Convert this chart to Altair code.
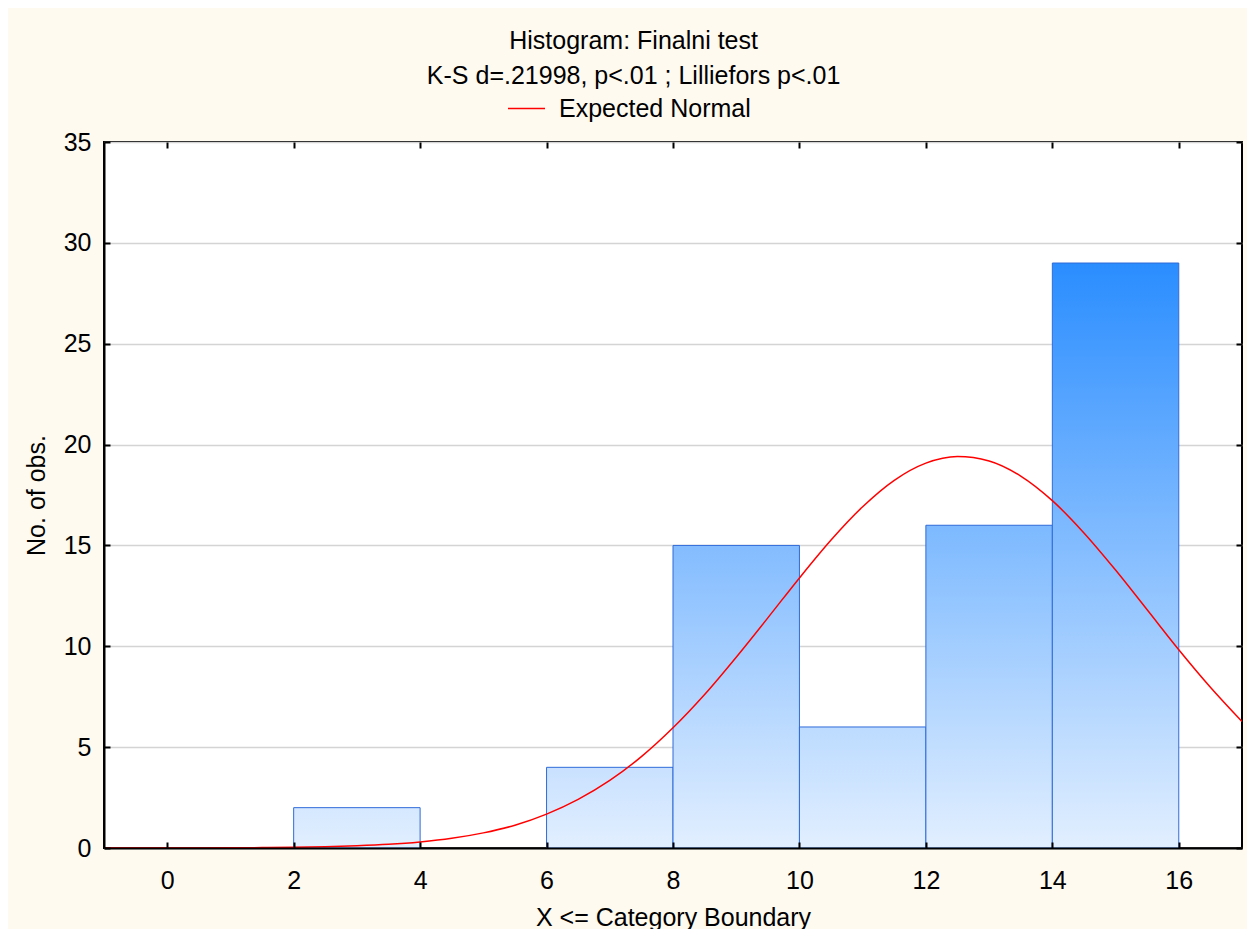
import altair as alt
import pandas as pd

# ---- data ----
bin_start = [0, 2, 4, 6, 8, 10, 12, 14]
bin_end = [2, 4, 6, 8, 10, 12, 14, 16]
counts = [0, 2, 0, 4, 15, 6, 16, 29]

curve_x = [-1, -0.5, 0, 0.5, 1, 1.5, 2, 2.5, 3, 3.5, 4, 4.5, 5, 5.5, 6, 6.5,
           7, 7.5, 8, 8.5, 9, 9.5, 10, 10.5, 11, 11.5, 12, 12.5, 13, 13.5,
           14, 14.5, 15, 15.5, 16, 16.5, 17]
curve_y = [0.0005, 0.001, 0.002, 0.005, 0.01, 0.02, 0.034, 0.06, 0.107, 0.18,
           0.30, 0.48, 0.75, 1.13, 1.68, 2.41, 3.35, 4.53, 5.96, 7.61, 9.46,
           11.41, 13.39, 15.27, 16.92, 18.23, 19.08, 19.41, 19.19, 18.44,
           17.22, 15.62, 13.78, 11.81, 9.83, 7.97, 6.27]
series_name = "Expected Normal"

x_ticks = [0, 2, 4, 6, 8, 10, 12, 14, 16]
y_ticks = [0, 5, 10, 15, 20, 25, 30, 35]

title_lines = ["Histogram: Finalni test", "K-S d=.21998, p<.01 ; Lilliefors p<.01"]
x_title = "X <= Category Boundary"
y_title = "No. of obs."

FONT = "Liberation Sans, Arial, sans-serif"
FS = 25

bars = pd.DataFrame({"start": bin_start, "end": bin_end, "count": counts})
curve = pd.DataFrame({"x": curve_x, "y": curve_y, "series": series_name})

xscale = alt.Scale(domain=[-1, 17], nice=False, zero=False)
yscale = alt.Scale(domain=[0, 35], nice=False)

BOTTOM = (226, 239, 255)
TOP = (42, 141, 255)
cmax = max(counts)


def shade(v):
    t = v / cmax
    c = [round(BOTTOM[i] + (TOP[i] - BOTTOM[i]) * t) for i in range(3)]
    return "#%02x%02x%02x" % tuple(c)


def tick_axis(orient, values):
    return alt.Axis(orient=orient, values=values, labels=False, domain=False,
                    grid=False, ticks=True, tickSize=6, tickWidth=2,
                    tickColor="black", offset=-6, title=None, zindex=1)


x_axes = [
    alt.Axis(orient="bottom", values=x_ticks, title=x_title, domain=True,
             domainColor="black", domainWidth=2, ticks=False, tickSize=0,
             labelPadding=20, titlePadding=12, grid=False, zindex=1),
    tick_axis("bottom", x_ticks),
    tick_axis("top", x_ticks),
    None,
]
y_axes = [
    alt.Axis(orient="left", values=y_ticks, title=y_title, domain=True,
             domainColor="black", domainWidth=2, ticks=False, tickSize=0,
             labelPadding=13, titlePadding=14, grid=False, zindex=1),
    alt.Axis(orient="left", values=y_ticks, labels=False, domain=False,
             ticks=False, grid=True, gridColor="#d4d4d4", gridWidth=1.5,
             title=None, zindex=0),
    tick_axis("left", y_ticks),
    tick_axis("right", y_ticks),
]

layers = []
k = 0
for s, e, c in zip(bin_start, bin_end, counts):
    if c <= 0:
        continue
    xa = x_axes[k] if k < len(x_axes) else None
    ya = y_axes[k] if k < len(y_axes) else None
    grad = alt.LinearGradient(
        gradient="linear",
        stops=[alt.GradientStop(color=shade(0), offset=0),
               alt.GradientStop(color=shade(c), offset=1)],
        x1=0, x2=0, y1=1, y2=0)
    layer = alt.Chart(bars).transform_filter(alt.datum.start == s).mark_rect(
        fill=grad, stroke="#2f6bd9", strokeWidth=1
    ).encode(
        x=alt.X("start:Q", scale=xscale, axis=xa),
        x2="end:Q",
        y=alt.Y("count:Q", scale=yscale, axis=ya),
        y2=alt.datum(0),
    )
    layers.append(layer)
    k += 1

line = alt.Chart(curve).mark_line(strokeWidth=1.5, interpolate="monotone", clip=True).encode(
    x=alt.X("x:Q", scale=xscale, axis=None),
    y=alt.Y("y:Q", scale=yscale, axis=None),
    stroke=alt.Stroke("series:N",
                      scale=alt.Scale(domain=[series_name], range=["#ff0000"]),
                      legend=alt.Legend(orient="none", legendX=403, legendY=-53,
                                        title=None, symbolType="stroke",
                                        symbolSize=1369, symbolStrokeWidth=1.5,
                                        labelFontSize=FS, labelFont=FONT,
                                        labelColor="black", labelOffset=13,
                                        labelLimit=600, padding=0)),
)
layers.append(line)

chart = alt.layer(*layers).resolve_axis(x="independent", y="independent").properties(
    width=1138,
    height=706,
    padding={"left": 96, "top": 134, "right": 5, "bottom": 81},
    autosize=alt.AutoSizeParams(type="none"),
    background="#fefaf0",
    title=alt.TitleParams(text=title_lines, anchor="middle", frame="bounds",
                          fontSize=FS, font=FONT, fontWeight="normal",
                          color="black", lineHeight=35, offset=0),
).configure_view(
    fill="white", stroke="black", strokeWidth=2
).configure_axis(
    labelFont=FONT, labelFontSize=FS, labelColor="black",
    titleFont=FONT, titleFontSize=FS, titleColor="black", titleFontWeight="normal",
)

chart.save("out.html", embed_options={"renderer": "svg", "actions": False})
